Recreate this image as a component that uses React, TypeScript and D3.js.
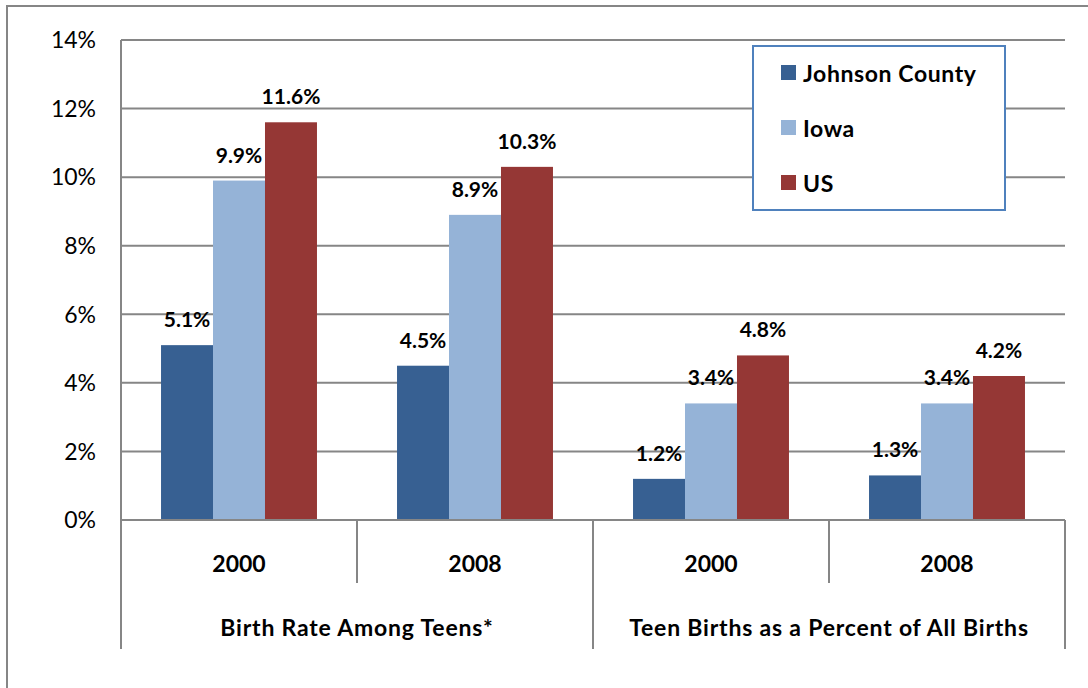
import React from "react";
import * as d3 from "d3";

const groups = ["Birth Rate Among Teens*", "Teen Births as a Percent of All Births"];
const years = ["2000", "2008", "2000", "2008"];
const series = ["Johnson County", "Iowa", "US"];
const colors = ["#376092", "#95B3D7", "#953735"];
const johnson = [5.1, 4.5, 1.2, 1.3];
const iowa = [9.9, 8.9, 3.4, 3.4];
const us = [11.6, 10.3, 4.8, 4.2];
const yTicks = [0, 2, 4, 6, 8, 10, 12, 14];

const values = [johnson, iowa, us];

const FONT = "Lato, 'DejaVu Sans', sans-serif";
const GRID = "#868686";

export default function App() {
  const left = 121, right = 1065, top = 40, base = 520;
  const y = d3.scaleLinear().domain([0, 14]).range([base, top]);
  const cats = d3.range(years.length).map(String);
  const x = d3.scaleBand<string>().domain(cats).range([left, right]).padding(0);
  const sub = d3.scaleBand<string>().domain(series).range([0, x.bandwidth()]).paddingInner(0).paddingOuter(0.77);
  const gx = d3.scaleBand<string>().domain(groups).range([left, right]).padding(0);

  return (
    <svg width={1088} height={688} style={{ position: "absolute", left: 0, top: 0, background: "#fff" }}>
      <rect x={7} y={6} width={1120} height={720} fill="#fff" stroke={GRID} strokeWidth={2} />
      {yTicks.map((t) => (
        <g key={t}>
          {t > 0 && <line x1={left} x2={right} y1={y(t)} y2={y(t)} stroke={GRID} strokeWidth={2} />}
          <text x={96} y={y(t)} dy="0.36em" textAnchor="end" fontFamily={FONT} fontSize={23} fill="#000">
            {t}%
          </text>
        </g>
      ))}
      {cats.map((c, i) =>
        series.map((s, j) => {
          const v = values[j][i];
          const bx = (x(c) as number) + (sub(s) as number);
          return (
            <g key={c + s}>
              <rect x={bx} y={y(v)} width={sub.bandwidth()} height={base - y(v)} fill={colors[j]} />
              <text x={bx + sub.bandwidth() / 2} y={y(v) - 18} textAnchor="middle" fontFamily={FONT} fontWeight="bold" fontSize={21} fill="#000">
                {v.toFixed(1)}%
              </text>
            </g>
          );
        })
      )}
      <line x1={left} x2={right} y1={base} y2={base} stroke={GRID} strokeWidth={2} />
      <line x1={left} x2={left} y1={top} y2={649} stroke={GRID} strokeWidth={2} />
      {cats.map((c, i) => {
        const xr = (x(c) as number) + x.bandwidth();
        const long = i % 2 === 1;
        return <line key={"t" + c} x1={xr} x2={xr} y1={base} y2={long ? 649 : 583} stroke={GRID} strokeWidth={2} />;
      })}
      {cats.map((c, i) => (
        <text key={"y" + c} x={(x(c) as number) + x.bandwidth() / 2} y={572} textAnchor="middle" fontFamily={FONT} fontWeight="bold" fontSize={23} fill="#000">
          {years[i]}
        </text>
      ))}
      {groups.map((g) => (
        <text key={g} x={(gx(g) as number) + gx.bandwidth() / 2} y={636} textAnchor="middle" fontFamily={FONT} fontWeight="bold" fontSize={23} letterSpacing={0.8} fill="#000">
          {g}
        </text>
      ))}
      <rect x={753} y={46} width={252} height={164} fill="#fff" stroke="#4F81BD" strokeWidth={2} />
      {series.map((s, j) => {
        const cy = [73, 128, 183][j];
        return (
          <g key={s}>
            <rect x={781} y={cy - 8} width={15} height={15} fill={colors[j]} />
            <text x={803} y={cy + 9} fontFamily={FONT} fontWeight="bold" fontSize={23} letterSpacing={0.6} fill="#000">
              {s}
            </text>
          </g>
        );
      })}
    </svg>
  );
}
